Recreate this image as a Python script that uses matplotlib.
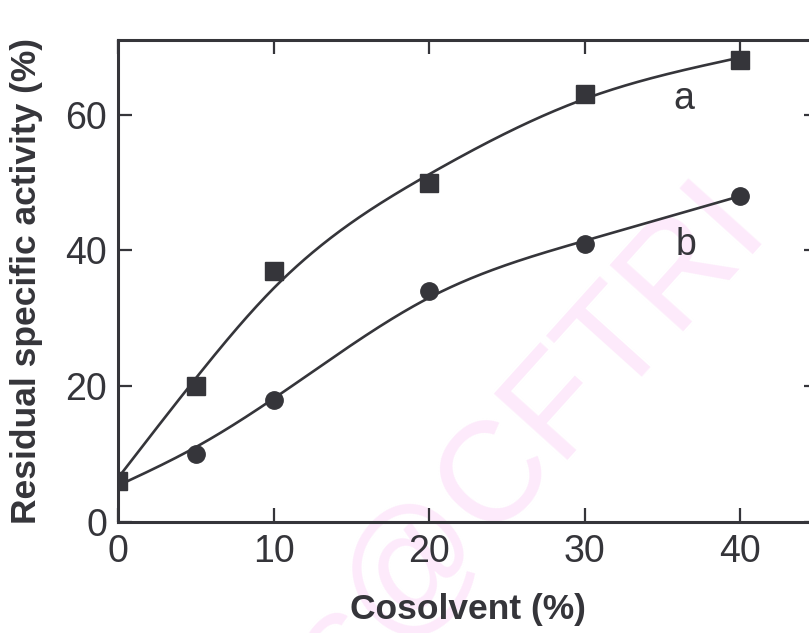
import numpy as np
import matplotlib
matplotlib.use("Agg")
import matplotlib.pyplot as plt

plt.rcParams['font.family'] = ['Liberation Sans', 'DejaVu Sans']

# cosolvent concentration (%) and residual specific activity (%)
cosolvent = [0, 5, 10, 20, 30, 40]
activity_a = [6, 20, 37, 50, 63, 68]
activity_b = [6, 10, 18, 34, 41, 48]
curve_labels = ["a", "b"]
x_ticks = [0, 10, 20, 30, 40]
y_ticks = [0, 20, 40, 60]

ink = "#35353a"


def smooth_fit(x, y, lam, step=0.1):
    # penalised (cubic smoothing spline like) curve through the points
    xs = np.arange(min(x), max(x) + step / 2, step)
    n = len(xs)
    idx = np.round((np.asarray(x) - xs[0]) / step).astype(int)
    w = np.zeros(n)
    w[idx] = 1.0
    yw = np.zeros(n)
    yw[idx] = y
    d = np.diff(np.eye(n), 2, axis=0)
    a = np.diag(w) + lam / step**3 * d.T @ d
    return xs, np.linalg.solve(a, w * yw)


def main():
    fig = plt.figure(figsize=(8.09, 6.33), dpi=100)
    ax = fig.add_axes([0.1459, 0.1754, 0.865, 0.7614])

    # faint watermark behind the data
    fig.text(0.952, 0.635, "s@CFTRI", fontsize=102, color="#fdeafb",
             rotation=48, ha="right", va="baseline",
             rotation_mode="anchor", zorder=-5)

    for yv, lam, marker in [(activity_a, 60, "s"), (activity_b, 40, "o")]:
        xs, ys = smooth_fit(cosolvent, yv, lam)
        ax.plot(xs, ys, color=ink, lw=1.9, zorder=2)
        ax.plot(cosolvent, yv, marker, color=ink, ms=12.5, zorder=3)

    ax.text(36.4, 62.3, curve_labels[0], fontsize=27, color=ink,
            ha="center", va="center")
    ax.text(36.5, 40.8, curve_labels[1], fontsize=27, color=ink,
            ha="center", va="center")

    ax.set_xlim(0, 45)
    ax.set_ylim(0, 71)
    ax.set_xticks(x_ticks)
    ax.set_yticks(y_ticks)
    ax.tick_params(direction="in", length=10, width=1.6, colors=ink,
                   labelsize=27, top=True, right=True)
    ax.tick_params(axis="x", pad=9)
    ax.tick_params(axis="y", pad=8)
    for s in ax.spines.values():
        s.set_color(ink)
        s.set_linewidth(2.2)
    ax.patch.set_alpha(0)

    ax.set_xlabel("Cosolvent (%)", fontsize=25.5, fontweight="bold",
                  color=ink, labelpad=16)
    ax.set_ylabel("Residual specific activity (%)", fontsize=25.5,
                  fontweight="bold", color=ink, labelpad=16)

    fig.savefig("out.png", dpi=100)


if __name__ == "__main__":
    main()
